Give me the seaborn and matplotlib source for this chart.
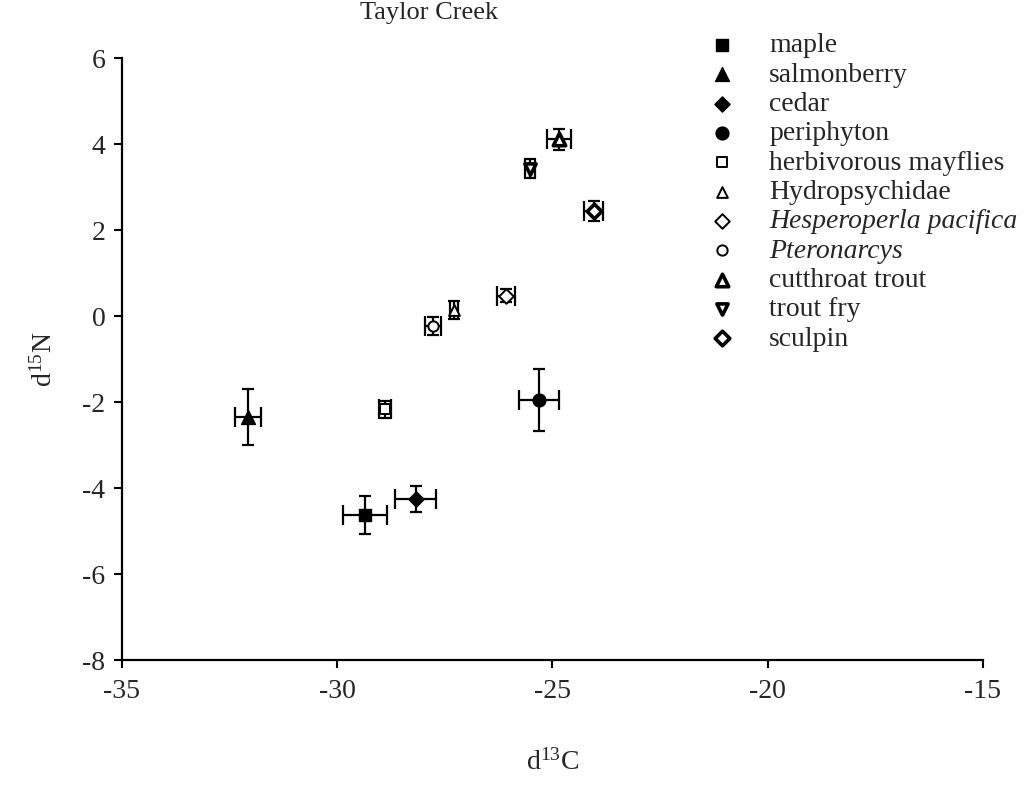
import matplotlib
matplotlib.use("Agg")
import matplotlib.pyplot as plt
import seaborn as sns
import pandas as pd

# Stable isotope means (± SD) for the Taylor Creek food web
taxa = ["maple", "salmonberry", "cedar", "periphyton", "herbivorous mayflies",
        "Hydropsychidae", "Hesperoperla pacifica", "Pteronarcys",
        "cutthroat trout", "trout fry", "sculpin"]
d13C = [-29.35, -32.08, -28.18, -25.31, -28.89, -27.29, -26.08, -27.78, -24.85, -25.52, -24.04]
d15N = [-4.63, -2.34, -4.26, -1.95, -2.17, 0.14, 0.47, -0.23, 4.11, 3.43, 2.44]
sd13C = [0.51, 0.30, 0.48, 0.46, 0.14, 0.10, 0.22, 0.19, 0.28, 0.11, 0.22]
sd15N = [0.44, 0.65, 0.30, 0.72, 0.20, 0.21, 0.15, 0.21, 0.24, 0.22, 0.24]

x_ticks = [-35, -30, -25, -20, -15]
y_ticks = [-8, -6, -4, -2, 0, 2, 4, 6]

df = pd.DataFrame({"taxon": taxa, "d13C": d13C, "d15N": d15N,
                   "sd13C": sd13C, "sd15N": sd15N})

# marker, face colour, size, edge width
styles = {
    "maple": ("s", "black", 75, 1.0),
    "salmonberry": ("^", "black", 100, 1.0),
    "cedar": ("D", "black", 60, 1.0),
    "periphyton": ("o", "black", 85, 1.0),
    "herbivorous mayflies": ("s", "white", 50, 1.4),
    "Hydropsychidae": ("^", "white", 60, 1.4),
    "Hesperoperla pacifica": ("D", "white", 55, 1.4),
    "Pteronarcys": ("o", "white", 55, 1.4),
    "cutthroat trout": ("^", "white", 80, 2.6),
    "trout fry": ("v", "white", 65, 2.6),
    "sculpin": ("D", "white", 55, 2.6),
}

sns.set_style("ticks")
plt.rcParams["font.family"] = ["Liberation Serif", "DejaVu Serif"]
plt.rcParams["mathtext.default"] = "regular"

fig = plt.figure(figsize=(10.36, 7.85), dpi=100)
ax = fig.add_axes([122 / 1036, 1 - 660 / 785, (983 - 122) / 1036, (660 - 58) / 785])

# horizontal and vertical error bars (different cap lengths)
ax.errorbar(df["d13C"], df["d15N"], xerr=df["sd13C"], fmt="none", ecolor="black",
            elinewidth=1.6, capsize=7, capthick=1.6, zorder=2)
ax.errorbar(df["d13C"], df["d15N"], yerr=df["sd15N"], fmt="none", ecolor="black",
            elinewidth=1.6, capsize=4.5, capthick=1.6, zorder=2)

for name in taxa:
    m, fc, s, lw = styles[name]
    sns.scatterplot(data=df[df["taxon"] == name], x="d13C", y="d15N", ax=ax,
                    marker=m, s=s, color=fc, edgecolor="black", linewidth=lw,
                    label=name, zorder=3)

handles, labels = ax.get_legend_handles_labels()
if ax.get_legend() is not None:
    ax.get_legend().remove()

ax.set_xlim(-35, -15)
ax.set_ylim(-8, 6)
ax.set_xticks(x_ticks)
ax.set_yticks(y_ticks)
ax.set_xticklabels([str(v) for v in x_ticks])
ax.set_yticklabels([str(v) for v in y_ticks])
ax.tick_params(direction="out", length=6, width=1.5, labelsize=20, pad=8, color="black")
ax.tick_params(axis="y", pad=6)
for side in ("top", "right"):
    ax.spines[side].set_visible(False)
for side in ("left", "bottom"):
    ax.spines[side].set_linewidth(1.6)
    ax.spines[side].set_color("black")

ax.set_xlabel("d$^{13}$C", fontsize=20, labelpad=32)
ax.set_ylabel("d$^{15}$N", fontsize=20, labelpad=18)

fig.text(429 / 1036, 1 - 13 / 785, "Taylor Creek", fontsize=19, ha="center", va="center")

leg = fig.legend(handles, labels, loc="upper left", bbox_to_anchor=(708 / 1036, 1 - 33 / 785),
                 frameon=False, fontsize=20, handlelength=1.0, handletextpad=1.2,
                 labelspacing=0.14, borderpad=0, borderaxespad=0, scatterpoints=1)
for t in leg.get_texts():
    if t.get_text() in ("Hesperoperla pacifica", "Pteronarcys"):
        t.set_fontstyle("italic")

fig.savefig("out.png", dpi=100)
